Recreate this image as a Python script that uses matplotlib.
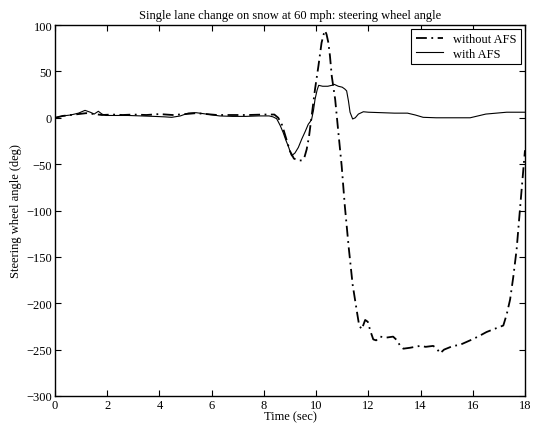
import numpy as np
import matplotlib
matplotlib.use("Agg")
import matplotlib.pyplot as plt

plt.rcParams['font.family'] = ['Liberation Serif', 'DejaVu Serif']
plt.rcParams['mathtext.default'] = 'regular'

# without AFS (dash-dot)
t_without = [0, 0.3, 0.6, 0.9, 1.2, 1.5, 1.8, 2.2, 2.6, 3.0, 3.5, 4.0, 4.5, 5.0, 5.4, 5.8, 6.2, 6.8,
             7.4, 8.0, 8.4, 8.55, 8.7, 8.85, 9.0, 9.15, 9.32, 9.45, 9.55, 9.64, 9.73, 9.83, 9.96, 10.09,
             10.21, 10.3, 10.34, 10.4, 10.47, 10.53, 10.6, 10.73, 10.85, 10.98, 11.1, 11.25, 11.4, 11.49,
             11.58, 11.65, 11.75, 11.88, 11.98, 12.08, 12.19, 12.3, 12.45, 12.7, 12.95, 13.1, 13.2, 13.34,
             13.6, 13.98, 14.2, 14.48, 14.6, 14.75, 14.9, 15.25, 15.5, 15.9, 16.2, 16.53, 16.8, 17.17,
             17.3, 17.43, 17.55, 17.68, 17.81, 17.9, 18.0]
y_without = [0, 2, 3, 4, 5, 4, 3, 3.5, 3, 3.5, 3, 4, 3, 4, 5, 4, 3, 3,
             3, 3.5, 3.5, 0, -8, -22, -36, -44, -46, -46, -43, -34, -20, 2, 31, 56,
             81, 91, 94, 90, 81, 67, 45, 20, -15, -52, -95, -140, -180, -196,
             -212, -224, -228, -218, -220, -230, -239, -240, -236, -237, -236, -240, -245, -249,
             -248, -246, -247, -246, -248, -254, -250, -246, -245, -240, -236, -231, -228, -224,
             -212, -196, -172, -142, -98, -68, -35]

# with AFS (solid)
t_with = [0, 0.3, 0.6, 0.9, 1.15, 1.35, 1.5, 1.66, 1.8, 1.95, 2.3, 2.8, 3.3, 3.8, 4.2, 4.47, 4.8,
          5.1, 5.4, 5.8, 6.3, 6.8, 7.3, 7.8, 8.2, 8.35, 8.49, 8.62, 8.74, 8.84, 8.94, 9.06, 9.19,
          9.32, 9.45, 9.58, 9.7, 9.78, 9.83, 9.9, 9.96, 10.04, 10.1, 10.25, 10.45, 10.6, 10.7,
          10.85, 11.0, 11.1, 11.17, 11.24, 11.3, 11.4, 11.5, 11.62, 11.81, 12.0, 12.5, 13.0, 13.5,
          13.8, 14.1, 14.6, 15.2, 15.9, 16.2, 16.5, 16.9, 17.3, 17.7, 18.0]
y_with = [0, 2, 3, 5, 8, 6, 4, 7, 4, 2.5, 2.5, 2.5, 2, 1.5, 1, 0.5, 2,
          5, 5.5, 4, 2, 1.5, 1.5, 2, 2, 1, -1, -8, -16, -24, -31, -41, -38,
          -32, -23, -15, -7, -4, -1.5, 8, 20, 30, 35, 34, 34, 35, 36,
          34, 33, 31, 29, 18, 6, -1.3, 0, 4, 6.5, 6, 5.5, 5, 5,
          3, 0.5, 0, 0, 0, 2, 4, 5, 6, 6, 6]

fig = plt.figure(figsize=(5.38, 4.27), dpi=100)
ax = fig.add_axes([0.1022, 0.0703, 0.8736, 0.8687])

ax.plot(t_without, y_without, color='black', lw=1.3,
        linestyle=(0, (6, 2.5, 1, 2.5)), label='without AFS')
ax.plot(t_with, y_with, color='black', lw=0.8, label='with AFS')

ax.set_xlim(0, 18)
ax.set_ylim(-300, 100)
ax.set_xticks(np.arange(0, 19, 2))
ax.set_yticks(np.arange(-300, 101, 50))
ax.tick_params(direction='in', top=True, right=True, length=4, labelsize=9, pad=2)
for s in ax.spines.values():
    s.set_linewidth(1.0)

ax.set_title('Single lane change on snow at 60 mph: steering wheel angle', fontsize=9, pad=5)
ax.set_xlabel('Time (sec)', fontsize=9, labelpad=-0.5)
ax.set_ylabel('Steering wheel angle (deg)', fontsize=9, labelpad=3)

leg = ax.legend(loc='upper right', fontsize=9, fancybox=False, edgecolor='black',
                framealpha=1, borderaxespad=0.3, handlelength=2.2, borderpad=0.35,
                labelspacing=0.2, handletextpad=0.8)
leg.get_frame().set_linewidth(0.8)

fig.savefig('out.png', dpi=100)
